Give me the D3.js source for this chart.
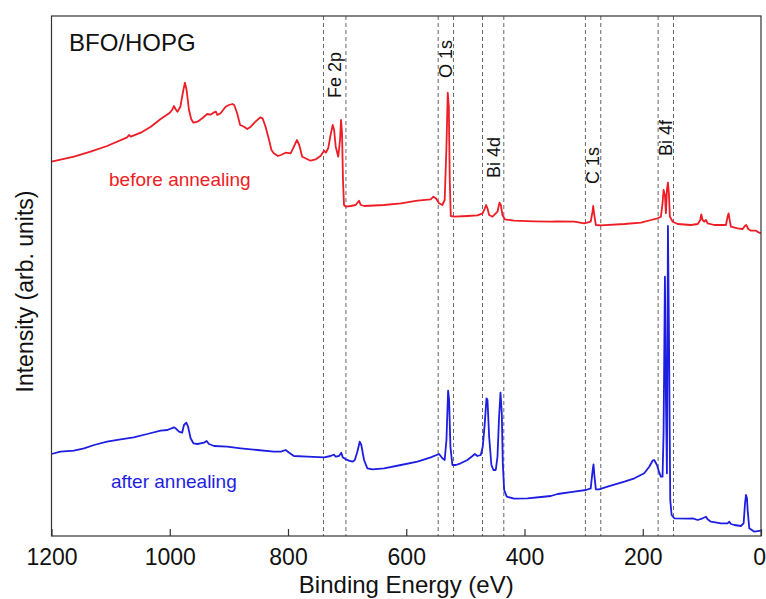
<!DOCTYPE html>
<html>
<head>
<meta charset="utf-8">
<script src="https://cdn.jsdelivr.net/npm/d3@7"></script>
<style>
  html, body { margin: 0; padding: 0; background: #fff; }
  svg { display: block; font-family: "Liberation Sans", Arial, sans-serif; }
</style>
</head>
<body>
<svg id="chart" width="766" height="599"></svg>
<script>
// XPS survey spectra of BFO on HOPG: [binding energy (eV), intensity (arb. units)]
const beforeAnnealing = [
  [1200, 378.3], [1162, 383.3], [1134, 388.3], [1106, 394], [1072, 402.7], [1069, 405], [1066, 403.3],
  [1049, 407.3], [1032, 413.3], [1016, 420.7], [1001, 426.7], [996, 430], [993, 434], [990, 430.7],
  [987, 428.3], [982, 433.3], [977, 450], [974.3, 457.3], [971.5, 450], [967.5, 430], [963.6, 420.7],
  [960, 417.3], [953, 418.3], [945, 421.7], [936.5, 426], [931, 425.3], [925, 427.7], [922, 428.3],
  [919.6, 425], [914, 426.7], [905.5, 433.3], [900, 435], [894, 436], [891, 435], [886, 426.7],
  [881, 415], [877, 414], [873, 412.7], [869, 411], [863, 413.3], [855, 418.3], [847, 422.7],
  [843, 421.7], [838, 413.3], [832, 400], [828, 390], [824, 386.7], [817, 384], [812, 385],
  [804, 387.3], [795.5, 386.7], [790, 393.3], [785, 400], [781, 395], [776, 383.3], [767, 380.7],
  [762, 379.3], [753, 380.7], [745, 384], [739, 389.3], [736, 387.3], [732, 391.7], [728, 405],
  [724.4, 415], [722, 410], [719.3, 393.3], [715, 383.3], [712, 400], [710.3, 420], [708.6, 406.7],
  [707, 360], [705.3, 335], [702.4, 333.3], [694, 334], [685.5, 335], [680, 339.3], [677, 335],
  [671, 334], [637.5, 335], [609, 336.7], [581, 339.3], [558.6, 340.7], [554, 343.3], [550, 341.7],
  [544.5, 336.7], [539, 335], [535, 340], [532, 393.3], [529.8, 447.3], [528, 433.3], [526.4, 360],
  [524.7, 324], [519, 323.3], [496.5, 324], [479.6, 324.7], [471, 326.7], [467, 331.7], [464.9, 335],
  [462.7, 331.7], [459.8, 325], [454, 323.3], [445.7, 328.3], [442.3, 337.3], [440, 335], [437.3, 325],
  [433.3, 320.7], [417.5, 319.3], [384, 318.7], [355.5, 318.3], [344, 318.7], [316, 318.3], [299, 316.7],
  [288, 318.3], [285, 328.3], [283.8, 334], [282, 325], [279.3, 315], [271, 314.7], [231, 316],
  [203, 317.3], [186, 320], [175, 321.7], [169.3, 323.3], [166.5, 336.7], [164.8, 350], [162.5, 345],
  [160.8, 326.7], [159.1, 350], [157.4, 357.3], [155.8, 346.7], [154.1, 323.3], [152.4, 321.7],
  [149.5, 318.3], [141, 316], [118.5, 315], [107, 316], [102.7, 320], [101, 325.7], [98.8, 320],
  [96, 318.3], [93, 320], [90.3, 316.7], [79, 315], [59.3, 315], [56.5, 323.3], [54.8, 326.7],
  [52.5, 318.3], [50.8, 313.3], [39.5, 311.7], [31, 311], [27, 314.3], [25, 315], [21.5, 311],
  [17, 309.3], [8.5, 309.3], [3, 307.3], [0, 306.7]
];

const afterAnnealing = [
  [1200, 86], [1185, 88.3], [1162, 89.3], [1145, 91.7], [1128, 95], [1106, 98.3], [1083, 100.7],
  [1061, 102.7], [1038, 106], [1015.5, 109.3], [1004, 110], [993, 112.7], [990, 111.7], [984.5, 108.3],
  [979, 107.3], [976, 115], [972, 117.3], [969, 113.3], [964.7, 101.7], [960, 96.7], [953, 96],
  [942, 97.3], [937.6, 99], [933.7, 96], [925, 94], [903, 93.3], [880, 91.7], [852, 90], [824, 88.3],
  [812, 88.3], [804, 90], [798, 87.3], [790, 84], [767, 83.3], [739, 82.7], [728, 84], [722, 85.3],
  [719.4, 83.3], [713.7, 84], [709.8, 87.3], [707.5, 82.7], [702.4, 80.7], [696.8, 79.3], [691, 78.3],
  [687, 80], [682.7, 88.3], [678.7, 98.3], [676, 95], [671.4, 80], [665.8, 71.7], [657, 70.7],
  [637.5, 71.7], [609, 75], [581, 78.3], [558.6, 82.7], [544.5, 86], [538.8, 81.7], [535, 80],
  [532, 100], [529.2, 149.3], [527.5, 140], [525.3, 93.3], [522, 75], [516, 75], [508, 76.7],
  [496.5, 80], [488, 84], [484, 86], [479.6, 84], [474, 85], [470.6, 93.3], [467.2, 116.7],
  [464.3, 141.7], [462.6, 140], [459.8, 103.3], [456, 75], [452.5, 70], [448.6, 70], [445.7, 83.3],
  [443, 123.3], [440.6, 147.3], [438.4, 126.7], [436.7, 76.7], [434.4, 50], [430, 43.3], [417.5, 41.3],
  [395, 41.7], [372, 43], [355.5, 44], [344, 46], [316, 48.3], [296, 50], [288, 51.7], [285, 68.3],
  [283.3, 75.7], [281.6, 63.3], [279.3, 50.7], [273.7, 50.7], [259.6, 53.3], [231, 58.3], [214, 61.7],
  [197.5, 66.7], [189, 73.3], [183.4, 79.3], [180.6, 80], [176, 75], [172, 67.3], [169.3, 63.3],
  [166.5, 63.3], [164.8, 106.7], [162.5, 263.3], [160.8, 140], [159.1, 66.7], [157.4, 314],
  [155.7, 206.7], [153.5, 40], [151.2, 25], [146.7, 21.7], [124, 21.3], [115.7, 21.7], [107, 20],
  [98.8, 21.7], [93, 23.3], [90.3, 20.7], [84.7, 18.3], [67.7, 16.7], [56.5, 16.7], [53.6, 18.3],
  [50.8, 16], [45, 15], [34, 14], [29.4, 16.7], [27, 36.7], [25.4, 45], [23.7, 41.7], [22.6, 30],
  [19.8, 11.7], [11.3, 8.3], [0, 9.3]
];

// Core-level windows marked with dashed guides
const peakNames = ["Fe 2p", "O 1s", "Bi 4d", "C 1s", "Bi 4f"];
const peakHigh  = [740, 546, 471, 297, 174];
const peakLow   = [702, 520, 435, 271, 148];
const labelBase = [442, 462, 362, 356, 384];

const xTicks = [1200, 1000, 800, 600, 400, 200, 0];

const W = 766, H = 599;
const m = { left: 51.5, right: 761, top: 16, bottom: 536 };

const svg = d3.select("#chart");

const x = d3.scaleLinear().domain([1200, 0]).range([m.left, m.right]);
const y = d3.scaleLinear().domain([4, 524]).range([m.bottom, m.top]);

svg.append("defs").append("clipPath").attr("id", "plot-clip")
  .append("rect")
  .attr("x", m.left).attr("y", m.top)
  .attr("width", m.right - m.left).attr("height", m.bottom - m.top);

// dashed guides
const guides = svg.append("g").attr("stroke", "#666").attr("stroke-width", 1)
  .attr("stroke-dasharray", "4,3");
peakHigh.concat(peakLow).forEach(e => {
  guides.append("line")
    .attr("x1", x(e)).attr("x2", x(e))
    .attr("y1", m.top).attr("y2", m.bottom);
});

// spectra
const line = d3.line().x(d => x(d[0])).y(d => y(d[1]));
const curves = svg.append("g").attr("clip-path", "url(#plot-clip)")
  .attr("fill", "none").attr("stroke-width", 1.8).attr("stroke-linejoin", "round");
curves.append("path").datum(beforeAnnealing).attr("stroke", "#ee1c24").attr("d", line);
curves.append("path").datum(afterAnnealing).attr("stroke", "#1e1ee0").attr("d", line);

// frame
svg.append("rect")
  .attr("x", m.left).attr("y", m.top)
  .attr("width", m.right - m.left).attr("height", m.bottom - m.top)
  .attr("fill", "none").attr("stroke", "#333").attr("stroke-width", 1.2);

// bottom axis, ticks pointing inward
const xAxis = d3.axisBottom(x).tickValues(xTicks).tickSizeInner(-7).tickSizeOuter(0)
  .tickPadding(13).tickFormat(d3.format("d"));
const ax = svg.append("g").attr("transform", `translate(0,${m.bottom})`).call(xAxis);
ax.select(".domain").remove();
ax.selectAll(".tick line").attr("stroke", "#333").attr("stroke-width", 1.2);
ax.selectAll(".tick text")
  .attr("font-size", 23).attr("fill", "#111")
  .attr("font-family", "Liberation Sans, Arial, sans-serif")
  .attr("dy", "0.71em");
// keep the last label inside the page edge
ax.selectAll(".tick text").filter(d => d === 0).attr("text-anchor", "end").attr("dx", 4.5);

// axis titles
svg.append("text")
  .attr("x", (m.left + m.right) / 2).attr("y", 593)
  .attr("text-anchor", "middle").attr("font-size", 24).attr("fill", "#111")
  .text("Binding Energy (eV)");

svg.append("text")
  .attr("transform", "translate(33,291.5) rotate(-90)")
  .attr("text-anchor", "middle").attr("font-size", 23).attr("fill", "#111")
  .text("Intensity (arb. units)");

// sample name
svg.append("text")
  .attr("x", 69).attr("y", 51)
  .attr("font-size", 24).attr("fill", "#111")
  .text("BFO/HOPG");

// series labels
svg.append("text")
  .attr("x", 109).attr("y", 186)
  .attr("font-size", 19).attr("fill", "#ee1c24")
  .text("before annealing");
svg.append("text")
  .attr("x", 111).attr("y", 488)
  .attr("font-size", 19).attr("fill", "#1e1ee0")
  .text("after annealing");

// core-level labels, rotated and centred between their guides
peakNames.forEach((name, i) => {
  const cx = (x(peakHigh[i]) + x(peakLow[i])) / 2 + 6.4;
  svg.append("text")
    .attr("transform", `translate(${cx},${y(labelBase[i])}) rotate(-90)`)
    .attr("font-size", 18).attr("fill", "#111")
    .text(name);
});
</script>
</body>
</html>
